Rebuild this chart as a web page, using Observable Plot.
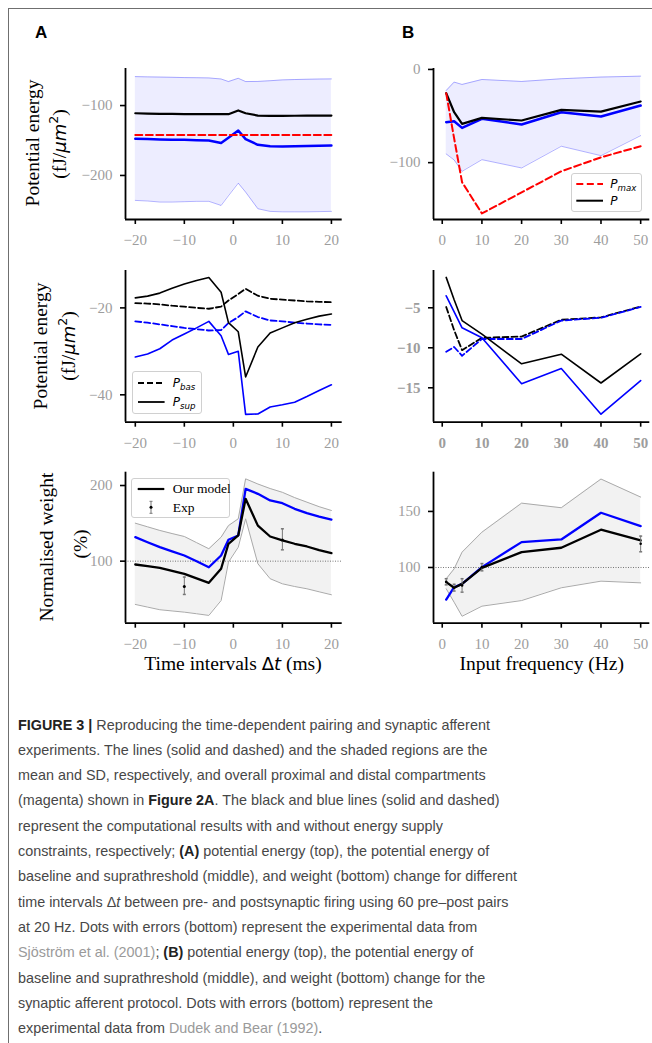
<!DOCTYPE html>
<html><head><meta charset="utf-8">
<script src="https://cdn.jsdelivr.net/npm/d3@7"></script>
<script src="https://cdn.jsdelivr.net/npm/@observablehq/plot@0.6"></script>
<style>
body{margin:0;background:#fff;width:652px;height:1043px;position:relative;overflow:hidden;}
#frameTop{position:absolute;left:7.5px;top:7.5px;width:645px;height:1.5px;background:#6f6f6f;}
#frameLeft{position:absolute;left:7.5px;top:7.5px;width:1.5px;height:1036px;background:#6f6f6f;}
.pl{position:absolute;}
.plabel{position:absolute;font-family:"Liberation Sans",Arial,sans-serif;font-weight:bold;font-size:17px;line-height:17px;}
.lab{position:absolute;font-family:"Liberation Serif","Times New Roman",serif;font-size:19.5px;white-space:nowrap;line-height:1;color:#000;}
.rot{transform:translate(-50%,-50%) rotate(-90deg);}
.hor{transform:translate(-50%,-50%);}
.mt{font-family:"DejaVu Sans",sans-serif;font-style:italic;font-size:18px;}
.mu{font-family:"DejaVu Sans",sans-serif;font-size:18px;}
.sp{font-family:"DejaVu Sans",sans-serif;font-size:12.5px;position:relative;top:-8px;}
.leg{position:absolute;border:1px solid #d0d0d0;border-radius:3px;background:rgba(255,255,255,0.85);box-sizing:border-box;}
.leg svg{position:absolute;left:0;top:0;overflow:visible;}
.lt{position:absolute;white-space:nowrap;line-height:1;transform:translateY(-50%);}
.lm{font-family:"DejaVu Sans",sans-serif;font-style:italic;font-size:12px;}
.lm sub{font-size:0.72em;vertical-align:-0.3em;line-height:0;}
.ls{font-family:"Liberation Serif","Times New Roman",serif;font-size:13.5px;}
#cap{position:absolute;left:18px;top:712.5px;transform-origin:0 0;font-family:"Liberation Sans Narrow","Liberation Sans",Arial,sans-serif;font-size:14.6px;color:#474747;}
#cap div{height:25.33px;line-height:25.33px;white-space:nowrap;}
#cap b{color:#222;}
#cap .ln{color:#9a9a9a;}
</style></head>
<body>
<div id="frameTop"></div><div id="frameLeft"></div>
<div class="plabel" style="left:35px;top:23.8px">A</div>
<div class="plabel" style="left:402px;top:23.8px">B</div>

<div class="lab rot" style="left:33px;top:143px">Potential energy</div>
<div class="lab rot" style="left:60px;top:144px">(fJ/<span class="mt">μm</span><span class="sp">2</span>)</div>
<div class="lab rot" style="left:40.5px;top:346px">Potential energy</div>
<div class="lab rot" style="left:69px;top:346px">(fJ/<span class="mt">μm</span><span class="sp">2</span>)</div>
<div class="lab rot" style="left:47px;top:546.5px">Normalised weight</div>
<div class="lab rot" style="left:81px;top:544px">(%)</div>
<div class="lab hor" style="left:233px;top:663.5px">Time intervals <span class="mu">Δ</span><span class="mt">t</span> (ms)</div>
<div class="lab hor" style="left:541.7px;top:663.5px">Input frequency (Hz)</div>

<div id="charts"></div>

<div class="leg" style="left:131.7px;top:370.7px;width:70px;height:43.6px">
 <svg width="70" height="44"><line x1="5" x2="31.6" y1="11" y2="11" stroke="black" stroke-width="1.8" stroke-dasharray="6,3"/><line x1="5" x2="31.6" y1="30" y2="30" stroke="black" stroke-width="1.8"/></svg>
 <span class="lt lm" style="left:40px;top:11px">P<sub>bas</sub></span>
 <span class="lt lm" style="left:40px;top:30px">P<sub>sup</sub></span>
</div>
<div class="leg" style="left:570.7px;top:173.3px;width:71.6px;height:39px">
 <svg width="72" height="39"><line x1="4.3" x2="31" y1="10" y2="10" stroke="red" stroke-width="2" stroke-dasharray="7,3.5"/><line x1="4.3" x2="31" y1="26.7" y2="26.7" stroke="black" stroke-width="2"/></svg>
 <span class="lt lm" style="left:38.6px;top:10px">P<sub>max</sub></span>
 <span class="lt lm" style="left:38.6px;top:26.7px">P</span>
</div>
<div class="leg" style="left:131px;top:477.7px;width:99px;height:40px">
 <svg width="99" height="40"><line x1="5.7" x2="32.3" y1="10" y2="10" stroke="black" stroke-width="2.2"/><line x1="19" x2="19" y1="22.3" y2="34.3" stroke="#777" stroke-width="1"/><line x1="17.5" x2="20.5" y1="22.3" y2="22.3" stroke="#777"/><line x1="17.5" x2="20.5" y1="34.3" y2="34.3" stroke="#777"/><circle cx="19" cy="28.3" r="1.5" fill="black"/></svg>
 <span class="lt ls" style="left:40.7px;top:10px">Our model</span>
 <span class="lt ls" style="left:40.7px;top:29px">Exp</span>
</div>

<div id="cap">
<div><span id="l1"><b>FIGURE 3 |</b> Reproducing the time-dependent pairing and synaptic afferent</span></div>
<div><span>experiments. The lines (solid and dashed) and the shaded regions are the</span></div>
<div><span>mean and SD, respectively, and overall proximal and distal compartments</span></div>
<div><span>(magenta) shown in <b>Figure 2A</b>. The black and blue lines (solid and dashed)</span></div>
<div><span>represent the computational results with and without energy supply</span></div>
<div><span>constraints, respectively; <b>(A)</b> potential energy (top), the potential energy of</span></div>
<div><span id="l7">baseline and suprathreshold (middle), and weight (bottom) change for different</span></div>
<div><span>time intervals Δ<i>t</i> between pre- and postsynaptic firing using 60 pre–post pairs</span></div>
<div><span>at 20 Hz. Dots with errors (bottom) represent the experimental data from</span></div>
<div><span><span class="ln">Sjöström et al. (2001)</span>; <b>(B)</b> potential energy (top), the potential energy of</span></div>
<div><span>baseline and suprathreshold (middle), and weight (bottom) change for the</span></div>
<div><span>synaptic afferent protocol. Dots with errors (bottom) represent the</span></div>
<div><span>experimental data from <span class="ln">Dudek and Bear (1992)</span>.</span></div>
</div>

<script>
// ---------- data: column A (time intervals, ms) ----------
const tA = [-20, -17.5, -15, -12.5, -10, -7.5, -5, -2.5, -1, 1, 2.5, 5, 7.5, 10, 12.5, 15, 17.5, 20];
// top A: potential energy
const topA_black = [-111, -111.5, -112, -112, -112.3, -112.4, -112.4, -112.4, -112.4, -107, -111, -114.3, -114.7, -114.7, -114.6, -114.5, -114.4, -114.3];
const topA_blue  = [-147.6, -148, -148.5, -148.8, -149, -149.5, -150, -153.5, -146, -135.7, -148, -156.2, -158.3, -158.5, -158.3, -158, -157.6, -157.1];
const topA_pmax  = [-142, -142, -142, -142, -142, -142, -142, -142, -142, -142, -142, -142, -142, -142, -142, -142, -142, -142];
const topA_hi    = [-58.6, -59, -59.3, -59.6, -60, -60.2, -60.5, -62, -65.7, -61, -65.7, -65.5, -64.5, -63.3, -62.8, -62.4, -62.1, -61.9];
const topA_lo    = [-235.7, -236.5, -238, -238, -237.5, -237, -237, -242.9, -229, -211, -223.8, -247.6, -251.4, -252, -252, -252, -251.7, -251.4];
// middle A: baseline / suprathreshold
const midA_supK = [-17.7, -17.3, -16.6, -15.5, -14.5, -13.7, -13.0, -16.4, -23.4, -25.5, -35.9, -29.0, -25.8, -24.6, -23.4, -22.6, -21.9, -21.4];
const midA_basK = [-18.9, -19.0, -19.2, -19.5, -19.7, -20.0, -20.2, -19.7, -18.3, -16.8, -15.6, -17.2, -17.9, -18.1, -18.3, -18.5, -18.6, -18.7];
const midA_basB = [-23.1, -23.4, -23.8, -24.2, -24.6, -24.9, -25.2, -25.1, -23.5, -22.1, -20.8, -22.1, -22.9, -23.1, -23.4, -23.6, -23.8, -23.9];
const midA_supB = [-31.3, -30.6, -29.4, -27.4, -26.0, -24.6, -23.1, -26.4, -30.7, -30.0, -44.5, -44.4, -42.8, -42.3, -41.7, -40.4, -39.0, -37.7];
// bottom A: normalised weight
const botA_black = [95.6, 93.5, 91.2, 87.3, 83.3, 77.3, 71.4, 90, 123, 134, 182.4, 147, 132.6, 127.5, 123, 119.4, 114.5, 110.6];
const botA_blue  = [131.7, 125, 118.5, 113, 107.5, 99.8, 92, 107.5, 128.3, 134, 195.6, 189, 180.2, 176.6, 169.2, 163.4, 159, 155];
const botA_hi    = [150.2, 145.4, 140.6, 136.5, 132.6, 124.5, 116.4, 131.7, 147, 156, 208.8, 202, 196, 191, 184, 178, 172, 167];
const botA_lo    = [42.8, 39.3, 35.8, 34.2, 32.6, 30.5, 28.3, 48, 98.7, 118.5, 156, 96.6, 76.8, 70.1, 66.5, 63.5, 59.5, 55.6];
const expA_t    = [-10, 10];
const expA_mean = [66.6, 128];
const expA_lo   = [56, 115];
const expA_hi   = [79, 142.8];

// ---------- data: column B (input frequency, Hz) ----------
const fB = [1, 3, 5, 10, 20, 30, 40, 50];
const topB_black = [-25.5, -45.9, -58.4, -52, -54.8, -43.4, -45.2, -34.4];
const topB_blue  = [-56.6, -55.6, -62.7, -53, -59.1, -45.9, -50.5, -38.7];
const topB_pmax  = [-25.5, -74, -121, -154.5, -131.9, -109.3, -94.3, -82.4];
const topB_hi    = [-22.6, -13.6, -16.1, -10.8, -12.9, -10, -8.2, -7.2];
const topB_lo    = [-90.7, -97.1, -109.3, -96.8, -105.7, -82.4, -92.5, -71];
const midB_supK = [-1.2, -4.0, -6.6, -8.3, -12, -10.8, -14.4, -10.75];
const midB_supB = [-3.5, -5.5, -7.5, -8.75, -14.5, -12.6, -18.3, -14.1];
const midB_basK = [-4.9, -7.8, -10.3, -8.75, -8.6, -6.5, -6.2, -4.85];
const midB_basB = [-10.5, -9.9, -11, -8.9, -8.9, -6.6, -6.25, -4.9];
const botB_black = [86.9, 81.9, 85.4, 99.7, 113.7, 117.6, 133.7, 124.1];
const botB_blue  = [71.4, 82.4, 85.4, 100.3, 122.6, 125, 148.8, 136.9];
const botB_hi    = [89.9, 98.8, 113.7, 131.5, 157.4, 153.3, 178.9, 162.8];
const botB_lo    = [81, 69, 56.5, 65.5, 70.5, 81.9, 87.8, 86.3];
const expB_f    = [1, 3, 5, 10, 50];
const expB_mean = [87.2, 82, 84, 100.3, 121.2];
const expB_lo   = [84.5, 79, 78, 97, 114];
const expB_hi   = [90, 85, 90, 103.5, 128];

// ---------- ticks ----------
const xTicksA = [-20, -10, 0, 10, 20];
const xTicksB = [0, 10, 20, 30, 40, 50];
const yTicksTopA = [-100, -200];
const yTicksMidA = [-20, -40];
const yTicksBotA = [100, 200];
const yTicksTopB = [0, -100];
const yTicksMidB = [-5, -10, -15];
const yTicksBotB = [100, 150];

// ---------- helpers ----------
const mk = (xs, cols) => xs.map((x, i) => { const o = {x}; for (const k in cols) o[k] = cols[k][i]; return o; });
const fmt = d => (d < 0 ? "\u2212" + Math.abs(d) : String(d));
const capSym = {draw(ctx, size) { const r = Math.sqrt(size / Math.PI); ctx.moveTo(-r, 0); ctx.lineTo(r, 0); }};
const BLUE = "#0000ff";

function panel({sx, sy, W, H, L, R, T, B, xd, yd, xt, yt, marks, bold}) {
  const font = {fontFamily: "Liberation Serif, Times New Roman, serif", fontSize: 15, fontWeight: bold ? "bold" : "normal"};
  const svg = Plot.plot({
    width: W, height: H,
    marginLeft: L - sx, marginRight: sx + W - R, marginTop: T - sy, marginBottom: sy + H - B,
    x: {domain: xd}, y: {domain: yd},
    style: {background: "transparent", overflow: "visible"},
    marks: [
      ...marks,
      Plot.ruleX([xd[0]], {stroke: "black", strokeWidth: 1.8}),
      Plot.ruleY([yd[0]], {stroke: "black", strokeWidth: 1.8}),
      Plot.axisX(xt, {tickSize: 5, tickPadding: 10, stroke: "black", strokeWidth: 1.6, fill: "#9d9d9d", tickFormat: fmt, label: null, ...font}),
      Plot.axisY(yt, {tickSize: 5, tickPadding: 8, stroke: "black", strokeWidth: 1.6, fill: "#9d9d9d", tickFormat: fmt, label: null, ...font})
    ]
  });
  const d = document.createElement("div");
  d.className = "pl"; d.style.left = sx + "px"; d.style.top = sy + "px";
  d.appendChild(svg);
  document.getElementById("charts").appendChild(d);
}

// column / row geometry
const colA = {sx: 0, W: 345, L: 125, R: 341.7, xd: [-22, 22.2], xt: xTicksA};
const colB = {sx: 330, W: 322, L: 433, R: 649.3, xd: [-2.2, 52.3], xt: xTicksB};
const rowT = {sy: 50, H: 199, T: 68, B: 219};
const rowM = {sy: 255, H: 200, T: 270, B: 421.7};
const rowB = {sy: 460, H: 190, T: 471.7, B: 622.7};

// top A
const dTA = mk(tA, {hi: topA_hi, lo: topA_lo, k: topA_black, b: topA_blue, m: topA_pmax});
panel({...colA, ...rowT, yd: [-263, -47], yt: yTicksTopA, marks: [
  Plot.areaY(dTA, {x: "x", y1: "lo", y2: "hi", fill: BLUE, fillOpacity: 0.07}),
  Plot.lineY(dTA, {x: "x", y: "hi", stroke: BLUE, strokeOpacity: 0.3, strokeWidth: 1}),
  Plot.lineY(dTA, {x: "x", y: "lo", stroke: BLUE, strokeOpacity: 0.3, strokeWidth: 1}),
  Plot.lineY(dTA, {x: "x", y: "b", stroke: BLUE, strokeWidth: 2.5}),
  Plot.lineY(dTA, {x: "x", y: "m", stroke: "red", strokeWidth: 2, strokeDasharray: "7,3.5"}),
  Plot.lineY(dTA, {x: "x", y: "k", stroke: "black", strokeWidth: 2.2})
]});

// top B
const dTB = mk(fB, {hi: topB_hi, lo: topB_lo, k: topB_black, b: topB_blue, m: topB_pmax});
panel({...colB, ...rowT, yd: [-161, 1], yt: yTicksTopB, marks: [
  Plot.areaY(dTB, {x: "x", y1: "lo", y2: "hi", fill: BLUE, fillOpacity: 0.07}),
  Plot.lineY(dTB, {x: "x", y: "hi", stroke: BLUE, strokeOpacity: 0.3, strokeWidth: 1}),
  Plot.lineY(dTB, {x: "x", y: "lo", stroke: BLUE, strokeOpacity: 0.3, strokeWidth: 1}),
  Plot.lineY(dTB, {x: "x", y: "b", stroke: BLUE, strokeWidth: 2.5}),
  Plot.lineY(dTB, {x: "x", y: "k", stroke: "black", strokeWidth: 2.2}),
  Plot.lineY(dTB, {x: "x", y: "m", stroke: "red", strokeWidth: 2, strokeDasharray: "7,3.5"})
]});

// middle A
const dMA = mk(tA, {sk: midA_supK, bk: midA_basK, bb: midA_basB, sb: midA_supB});
panel({...colA, ...rowM, yd: [-46.3, -11.4], yt: yTicksMidA, marks: [
  Plot.lineY(dMA, {x: "x", y: "bk", stroke: "black", strokeWidth: 1.8, strokeDasharray: "6,3"}),
  Plot.lineY(dMA, {x: "x", y: "bb", stroke: BLUE, strokeWidth: 1.8, strokeDasharray: "6,3"}),
  Plot.lineY(dMA, {x: "x", y: "sb", stroke: BLUE, strokeWidth: 1.6}),
  Plot.lineY(dMA, {x: "x", y: "sk", stroke: "black", strokeWidth: 1.6})
]});

// middle B
const dMB = mk(fB, {sk: midB_supK, bk: midB_basK, bb: midB_basB, sb: midB_supB});
panel({...colB, ...rowM, yd: [-19.3, -0.34], yt: yTicksMidB, bold: true, marks: [
  Plot.lineY(dMB, {x: "x", y: "bk", stroke: "black", strokeWidth: 1.8, strokeDasharray: "6,3"}),
  Plot.lineY(dMB, {x: "x", y: "bb", stroke: BLUE, strokeWidth: 1.8, strokeDasharray: "6,3"}),
  Plot.lineY(dMB, {x: "x", y: "sb", stroke: BLUE, strokeWidth: 1.6}),
  Plot.lineY(dMB, {x: "x", y: "sk", stroke: "black", strokeWidth: 1.6})
]});

// bottom A
const dBA = mk(tA, {hi: botA_hi, lo: botA_lo, k: botA_black, b: botA_blue});
const eA = mk(expA_t, {m: expA_mean, lo: expA_lo, hi: expA_hi});
panel({...colA, ...rowB, yd: [18, 217.6], yt: yTicksBotA, marks: [
  Plot.areaY(dBA, {x: "x", y1: "lo", y2: "hi", fill: "#808080", fillOpacity: 0.1}),
  Plot.lineY(dBA, {x: "x", y: "hi", stroke: "#aaa", strokeWidth: 1}),
  Plot.lineY(dBA, {x: "x", y: "lo", stroke: "#aaa", strokeWidth: 1}),
  Plot.ruleY([100], {stroke: "#555", strokeWidth: 0.8, strokeDasharray: "1,1.5"}),
  Plot.lineY(dBA, {x: "x", y: "b", stroke: BLUE, strokeWidth: 2.3}),
  Plot.lineY(dBA, {x: "x", y: "k", stroke: "black", strokeWidth: 2.3}),
  Plot.ruleX(eA, {x: "x", y1: "lo", y2: "hi", stroke: "#777", strokeWidth: 1}),
  Plot.dot(eA, {x: "x", y: "lo", symbol: capSym, r: 1.5, stroke: "#777", fill: "none"}),
  Plot.dot(eA, {x: "x", y: "hi", symbol: capSym, r: 1.5, stroke: "#777", fill: "none"}),
  Plot.dot(eA, {x: "x", y: "m", r: 1.5, fill: "black", stroke: "none"})
]});

// bottom B
const dBB = mk(fB, {hi: botB_hi, lo: botB_lo, k: botB_black, b: botB_blue});
const eB = mk(expB_f, {m: expB_mean, lo: expB_lo, hi: expB_hi});
panel({...colB, ...rowB, yd: [50.3, 185], yt: yTicksBotB, marks: [
  Plot.areaY(dBB, {x: "x", y1: "lo", y2: "hi", fill: "#808080", fillOpacity: 0.1}),
  Plot.lineY(dBB, {x: "x", y: "hi", stroke: "#aaa", strokeWidth: 1}),
  Plot.lineY(dBB, {x: "x", y: "lo", stroke: "#aaa", strokeWidth: 1}),
  Plot.ruleY([100], {stroke: "#555", strokeWidth: 0.8, strokeDasharray: "1,1.5"}),
  Plot.lineY(dBB, {x: "x", y: "b", stroke: BLUE, strokeWidth: 2.3}),
  Plot.lineY(dBB, {x: "x", y: "k", stroke: "black", strokeWidth: 2.3}),
  Plot.ruleX(eB, {x: "x", y1: "lo", y2: "hi", stroke: "#777", strokeWidth: 1}),
  Plot.dot(eB, {x: "x", y: "lo", symbol: capSym, r: 1.5, stroke: "#777", fill: "none"}),
  Plot.dot(eB, {x: "x", y: "hi", symbol: capSym, r: 1.5, stroke: "#777", fill: "none"}),
  Plot.dot(eB, {x: "x", y: "m", r: 1.3, fill: "black", stroke: "none"})
]});

// caption width fit
const l7 = document.getElementById("l7");
const w7 = l7.getBoundingClientRect().width;
if (w7 > 0) document.getElementById("cap").style.transform = `scaleX(${499 / w7})`;
</script>
</body></html>
